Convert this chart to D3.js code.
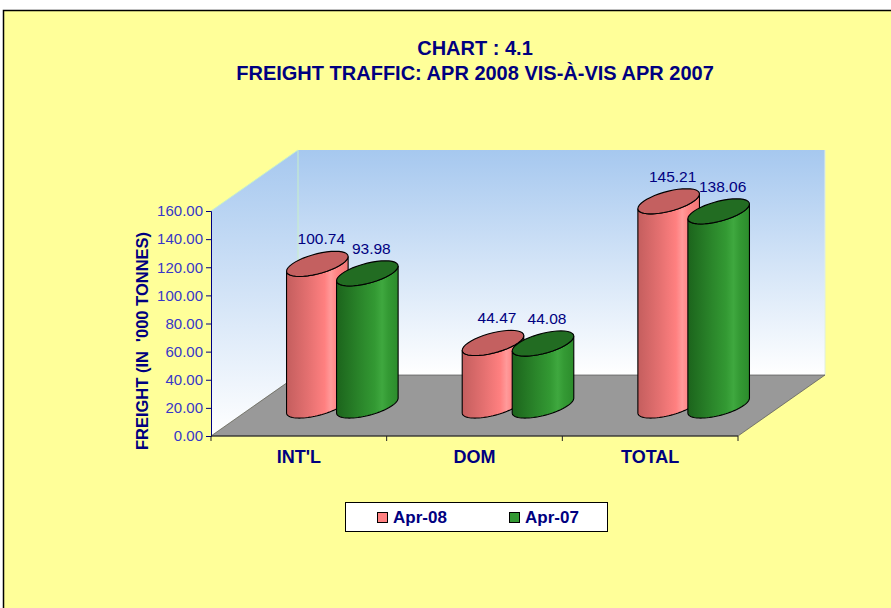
<html>
<script src="https://d3js.org/d3.v7.min.js"></script>
<style>
body {margin:0; background:white;}
text {font-family: Arial, "Liberation Sans", sans-serif;}
</style>
<body>
<svg width=891 height=608></svg>
<script>
// chart data
var categories = ["INT'L", "DOM", "TOTAL"];
var seriesNames = ["Apr-08", "Apr-07"];
var apr08 = [100.74, 44.47, 145.21];
var apr07 = [93.98, 44.08, 138.06];
var yTicks = [0, 20, 40, 60, 80, 100, 120, 140, 160];

var values = [apr08, apr07];
var svg = d3.select('svg');
var navy = '#000080';

// 3d box
var x0 = 211, x1 = 738, yBase = 436, yTop = 211;
var dx = 87, dy = -61;           // full depth offset on screen
var D = 121;                     // depth in "units"
var p = dx / D, q = -dy / D;
var r = 25, zc = D / 2;

var y = d3.scaleLinear().domain([0, 160]).range([yBase, yTop]);
var xc = d3.scaleBand().domain(categories).range([x0, x1]);
var xs = d3.scaleBand().domain(seriesNames).range([0, 2 * r * 2]);

var defs = svg.append('defs');
var wall = defs.append('linearGradient').attr('id', 'wall').attr('x1', 0).attr('y1', 0).attr('x2', 0).attr('y2', 1);
wall.append('stop').attr('offset', '0%').attr('stop-color', '#a6c8ef');
wall.append('stop').attr('offset', '100%').attr('stop-color', '#ffffff');

var cols = {
  'Apr-08': {stops: [['0%', '#c45e5e'], ['35%', '#e47070'], ['62%', '#ff8080'], ['72%', '#ff9a9a'], ['82%', '#ff8484'], ['100%', '#f27676']], top: '#c46060', sw: '#ff8080'},
  'Apr-07': {stops: [['0%', '#1c641c'], ['40%', '#2b872b'], ['62%', '#339933'], ['74%', '#3fa83f'], ['84%', '#349a34'], ['100%', '#2c8c2c']], top: '#226c22', sw: '#339933'}
};
seriesNames.forEach(function(s, i) {
  var g = defs.append('linearGradient').attr('id', 'cyl' + i).attr('x1', 0).attr('y1', 0).attr('x2', 1).attr('y2', 0);
  cols[s].stops.forEach(function(st) { g.append('stop').attr('offset', st[0]).attr('stop-color', st[1]); });
});

// background panel
svg.append('rect').attr('x', 3.5).attr('y', 10.5).attr('width', 900).attr('height', 610)
  .style('fill', '#ffff99').style('stroke', '#000').style('stroke-width', 1.5);

// titles
svg.append('text').attr('x', 475).attr('y', 55).attr('text-anchor', 'middle')
  .style('font-size', '20px').style('font-weight', 'bold').style('fill', navy).text('CHART : 4.1');
svg.append('text').attr('x', 475).attr('y', 80).attr('text-anchor', 'middle')
  .style('font-size', '20px').style('font-weight', 'bold').style('fill', navy).text('FREIGHT TRAFFIC: APR 2008 VIS-\u00C0-VIS APR 2007');

// walls
svg.append('polygon')
  .attr('points', [[x0, yBase], [x0, yTop], [x0 + dx, yTop + dy], [x0 + dx, yBase + dy]].join(' '))
  .style('fill', 'url(#wall)');
svg.append('rect').attr('x', x0 + dx).attr('y', yTop + dy).attr('width', x1 - x0).attr('height', yBase - yTop)
  .style('fill', 'url(#wall)');
svg.append('polyline')
  .attr('points', [[x0, yTop], [x0 + dx, yTop + dy], [x0 + dx, yBase + dy]].join(' '))
  .style('fill', 'none').style('stroke', '#c8f0c8').style('stroke-width', 1);
svg.append('line').attr('x1', x1 + dx).attr('x2', x1 + dx).attr('y1', yTop + dy).attr('y2', yBase + dy)
  .style('stroke', '#e0f0e0').style('stroke-width', 1);

// floor
svg.append('polygon')
  .attr('points', [[x0, yBase], [x0 + dx, yBase + dy], [x1 + dx, yBase + dy], [x1, yBase]].join(' '))
  .style('fill', '#999999').style('stroke', '#555').style('stroke-width', 0.7);

// y axis
var yAxis = d3.axisLeft(y).tickValues(yTicks).tickFormat(d3.format('.2f')).tickSize(5).tickPadding(3);
var ya = svg.append('g').attr('transform', 'translate(' + x0 + ',0)').call(yAxis);
ya.select('.domain').style('stroke', navy);
ya.selectAll('.tick line').style('stroke', navy);
ya.selectAll('.tick text').style('font-size', '15px').style('fill', '#3737c8').style('font-family', 'Arial, "Liberation Sans", sans-serif');

svg.append('text').attr('transform', 'translate(148,341) rotate(-90)')
  .attr('text-anchor', 'middle').style('font-size', '16.5px').style('font-weight', 'bold').style('fill', navy)
  .attr('xml:space', 'preserve').text("FREIGHT (IN  '000 TONNES)");

// x axis
svg.append('line').attr('x1', x0).attr('x2', x1).attr('y1', yBase).attr('y2', yBase).style('stroke', '#222').style('stroke-width', 1);
var bounds = categories.map(function(c) { return xc(c); }).concat([x1]);
svg.selectAll('.xt').data(bounds).enter().append('line')
  .attr('x1', function(d) { return d; }).attr('x2', function(d) { return d; })
  .attr('y1', yBase).attr('y2', yBase + 5).style('stroke', '#222');
svg.selectAll('.xl').data(categories).enter().append('text')
  .attr('x', function(c) { return xc(c) + xc.bandwidth() / 2; }).attr('y', 463)
  .attr('text-anchor', 'middle').style('font-size', '18px').style('font-weight', 'bold').style('fill', navy)
  .text(function(c) { return c; });

// cylinders
function pt(cx, cy, t) {
  return [cx + r * Math.cos(t) + p * r * Math.sin(t), cy - q * r * Math.sin(t)];
}
function arc(cx, cy, a, b) {
  var out = [], n = 40;
  for (var k = 0; k <= n; k++) out.push(pt(cx, cy, a + (b - a) * k / n));
  return out;
}
var tR = Math.atan(p), tL = tR + Math.PI;
var line = d3.line();

categories.forEach(function(c, ci) {
  seriesNames.forEach(function(s, si) {
    var v = values[si][ci];
    var fx = xc(c) + xc.bandwidth() / 2 - 2 * r + xs(s) + xs.bandwidth() / 2;
    var cx = fx + p * zc;
    var cb = y(0) - q * zc, ct = y(v) - q * zc;
    var body = [pt(cx, ct, tL)].concat(arc(cx, cb, tL, tR + 2 * Math.PI)).concat(arc(cx, ct, tR + 2 * Math.PI, tL));
    svg.append('path').attr('d', line(body) + 'Z')
      .style('fill', 'url(#cyl' + si + ')').style('stroke', '#000').style('stroke-width', 1.1);
    svg.append('path').attr('d', line(arc(cx, ct, 0, 2 * Math.PI)) + 'Z')
      .style('fill', cols[s].top).style('stroke', '#000').style('stroke-width', 1.1);
    svg.append('text').attr('x', cx + 4).attr('y', ct - q * r - 7).attr('text-anchor', 'middle')
      .style('font-size', '15.5px').style('fill', navy).text(d3.format('.2f')(v));
  });
});

// legend
svg.append('rect').attr('x', 345.5).attr('y', 502.5).attr('width', 262).attr('height', 29)
  .style('fill', '#fff').style('stroke', '#000').style('stroke-width', 1);
var lx = [377, 509];
seriesNames.forEach(function(s, i) {
  svg.append('rect').attr('x', lx[i] + 0.5).attr('y', 512.5).attr('width', 10).attr('height', 10)
    .style('fill', cols[s].sw).style('stroke', '#000').style('stroke-width', 1);
  svg.append('text').attr('x', lx[i] + 16).attr('y', 523).style('font-size', '17px').style('font-weight', 'bold')
    .style('fill', navy).text(s);
});
</script>
</body>
</html>
